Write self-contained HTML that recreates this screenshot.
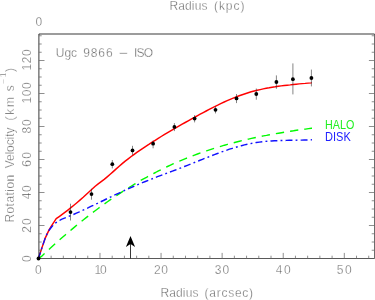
<!DOCTYPE html>
<html><head><meta charset="utf-8"><title>Ugc 9866 - ISO rotation curve</title>
<style>
html,body{margin:0;padding:0;background:#fff;}
body{width:375px;height:300px;overflow:hidden;font-family:"Liberation Sans",sans-serif;}
svg{display:block;}
</style></head><body>
<svg width="375" height="300" viewBox="0 0 375 300">
<rect width="375" height="300" fill="#fff"/>
<g fill="none" stroke-linejoin="round">
<polyline points="38.5,258.4 41.6,248.8 45.1,238.4 49.2,229.6 52.6,224.2 54.6,221.2 56.2,218.7 59.2,216.6 62.2,214.4 65.2,212.1 68.2,209.8 71.2,207.4 74.2,205.0 77.2,202.5 80.2,199.9 83.2,197.3 86.2,194.5 89.2,191.8 92.2,189.0 95.2,186.3 98.2,183.9 101.2,181.7 104.2,179.4 107.2,176.9 110.2,174.3 113.2,171.6 116.2,168.9 119.2,166.2 122.2,163.6 125.2,161.1 128.2,158.8 131.2,156.5 134.2,154.3 137.2,152.2 140.2,150.1 143.2,148.1 146.2,146.1 149.2,144.2 152.2,142.2 155.2,140.3 158.2,138.4 161.2,136.5 164.2,134.7 167.2,132.9 170.2,131.1 173.2,129.3 176.2,127.6 179.2,125.9 182.2,124.2 185.2,122.5 188.2,120.8 191.2,119.1 194.2,117.5 197.2,115.8 200.2,114.2 203.2,112.6 206.2,111.0 209.2,109.4 212.2,107.8 215.2,106.3 218.2,104.9 221.2,103.4 224.2,102.0 227.2,100.7 230.2,99.4 233.2,98.1 236.2,96.9 239.2,95.8 242.2,94.7 245.2,93.7 248.2,92.7 251.2,91.8 254.2,91.0 257.2,90.3 260.2,89.6 263.2,88.9 266.2,88.3 269.2,87.8 272.2,87.2 275.2,86.8 278.2,86.3 281.2,85.9 284.2,85.5 287.2,85.2 290.2,84.9 293.2,84.5 296.2,84.2 299.2,83.9 302.2,83.6 305.2,83.4 308.2,83.1 311.2,82.8 311.8,82.7" stroke="#ff0000" stroke-width="1.45"/>
<polyline points="38.5,258.4 41.5,256.4 44.5,253.6 47.5,250.8 50.5,248.0 53.5,245.3 56.5,242.6 59.5,239.9 62.5,237.3 65.5,234.7 68.5,232.1 71.5,229.6 74.5,227.1 77.5,224.6 80.5,222.2 83.5,219.7 86.5,217.4 89.5,215.0 92.5,212.7 95.5,210.5 98.5,208.2 101.5,206.0 104.5,203.9 107.5,201.7 110.5,199.6 113.5,197.6 116.5,195.6 119.5,193.6 122.5,191.6 125.5,189.7 128.5,187.8 131.5,186.0 134.5,184.2 137.5,182.4 140.5,180.6 143.5,178.9 146.5,177.3 149.5,175.6 152.5,174.0 155.5,172.5 158.5,170.9 161.5,169.4 164.5,167.9 167.5,166.5 170.5,165.1 173.5,163.7 176.5,162.4 179.5,161.1 182.5,159.8 185.5,158.6 188.5,157.4 191.5,156.2 194.5,155.1 197.5,154.0 200.5,152.9 203.5,151.8 206.5,150.8 209.5,149.8 212.5,148.8 215.5,147.9 218.5,147.0 221.5,146.1 224.5,145.2 227.5,144.4 230.5,143.6 233.5,142.8 236.5,142.0 239.5,141.2 242.5,140.5 245.5,139.8 248.5,139.1 251.5,138.4 254.5,137.8 257.5,137.2 260.5,136.5 263.5,135.9 266.5,135.4 269.5,134.8 272.5,134.2 275.5,133.7 278.5,133.2 281.5,132.7 284.5,132.2 287.5,131.7 290.5,131.2 293.5,130.8 296.5,130.3 299.5,129.9 302.5,129.5 305.5,129.1 308.5,128.6 311.5,128.2 312.0,128.2" stroke="#00fa00" stroke-width="1.4" stroke-dasharray="8.34 6.04" stroke-dashoffset="0.57"/>
<polyline points="38.5,258.4 41.6,248.8 45.1,238.4 47.7,232.0 51.6,227.0 55.0,223.3 58.3,221.3 61.4,219.3 64.4,218.2 67.4,217.0 70.4,215.7 73.4,214.5 76.4,213.1 79.4,211.8 82.4,210.4 85.4,209.1 88.4,207.7 91.4,206.2 94.4,204.8 97.4,203.4 100.4,201.9 103.4,200.5 106.4,199.0 109.4,197.6 112.4,196.1 115.4,194.7 118.4,193.3 121.4,191.9 124.4,190.5 127.4,189.2 130.4,187.8 133.4,186.5 136.4,185.2 139.4,183.9 142.4,182.7 145.4,181.5 148.4,180.3 151.4,179.1 154.4,177.9 157.4,176.7 160.4,175.6 163.4,174.5 166.4,173.3 169.4,172.2 172.4,171.1 175.4,170.0 178.4,168.8 181.4,167.7 184.4,166.5 187.4,165.3 190.4,164.2 193.4,163.0 196.4,161.8 199.4,160.5 202.4,159.3 205.4,158.1 208.4,157.0 211.4,155.8 214.4,154.6 217.4,153.5 220.4,152.4 223.4,151.3 226.4,150.3 229.4,149.2 232.4,148.3 235.4,147.4 238.4,146.5 241.4,145.7 244.4,144.9 247.4,144.2 250.4,143.6 253.4,143.0 256.4,142.5 259.4,142.1 262.4,141.7 265.4,141.4 268.4,141.2 271.4,141.0 274.4,140.8 277.4,140.7 280.4,140.5 283.4,140.5 286.4,140.4 289.4,140.3 292.4,140.2 295.4,140.2 298.4,140.1 301.4,140.1 304.4,140.0 307.4,140.0 310.4,139.9 312.0,139.8" stroke="#1010ff" stroke-width="1.4" stroke-dasharray="6.90 3.16 1.87 3.16" stroke-dashoffset="0.57"/>
</g>
<g stroke="#222" stroke-width="0.7" fill="none">
<path d="M38.9 258.5V34.0H374.5" stroke="#000" stroke-width="0.78"/>
<path d="M38.9 258.5H374.5" stroke="#111" stroke-width="0.7"/>
<path d="M374.5 34.0V258.5" stroke="#111" stroke-width="0.62"/>
<path d="M51.12 258.5v-2.8M63.33 258.5v-2.8M75.55 258.5v-2.8M87.76 258.5v-2.8M99.98 258.5v-5.6M112.20 258.5v-2.8M124.41 258.5v-2.8M136.63 258.5v-2.8M148.84 258.5v-2.8M161.06 258.5v-5.6M173.28 258.5v-2.8M185.49 258.5v-2.8M197.71 258.5v-2.8M209.92 258.5v-2.8M222.14 258.5v-5.6M234.36 258.5v-2.8M246.57 258.5v-2.8M258.79 258.5v-2.8M271.00 258.5v-2.8M283.22 258.5v-5.6M295.44 258.5v-2.8M307.65 258.5v-2.8M319.87 258.5v-2.8M332.08 258.5v-2.8M344.30 258.5v-5.6M356.52 258.5v-2.8M368.73 258.5v-2.8M38.9 250.25h2.8M374.5 250.25h-2.8M38.9 242.00h2.8M374.5 242.00h-2.8M38.9 233.75h2.8M374.5 233.75h-2.8M38.9 225.50h5.6M374.5 225.50h-5.6M38.9 217.25h2.8M374.5 217.25h-2.8M38.9 209.00h2.8M374.5 209.00h-2.8M38.9 200.75h2.8M374.5 200.75h-2.8M38.9 192.50h5.6M374.5 192.50h-5.6M38.9 184.25h2.8M374.5 184.25h-2.8M38.9 176.00h2.8M374.5 176.00h-2.8M38.9 167.75h2.8M374.5 167.75h-2.8M38.9 159.50h5.6M374.5 159.50h-5.6M38.9 151.25h2.8M374.5 151.25h-2.8M38.9 143.00h2.8M374.5 143.00h-2.8M38.9 134.75h2.8M374.5 134.75h-2.8M38.9 126.50h5.6M374.5 126.50h-5.6M38.9 118.25h2.8M374.5 118.25h-2.8M38.9 110.00h2.8M374.5 110.00h-2.8M38.9 101.75h2.8M374.5 101.75h-2.8M38.9 93.50h5.6M374.5 93.50h-5.6M38.9 85.25h2.8M374.5 85.25h-2.8M38.9 77.00h2.8M374.5 77.00h-2.8M38.9 68.75h2.8M374.5 68.75h-2.8M38.9 60.50h5.6M374.5 60.50h-5.6M38.9 52.25h2.8M374.5 52.25h-2.8M38.9 44.00h2.8M374.5 44.00h-2.8M38.9 35.75h2.8M374.5 35.75h-2.8" stroke="#6a6a6a" stroke-width="0.75"/>
</g>
<circle cx="38.5" cy="258.5" r="1.9" fill="#000"/>
<line x1="70.5" x2="70.5" y1="203.7" y2="220.5" stroke="#333" stroke-width="0.6"/>
<circle cx="70.5" cy="212.1" r="1.9" fill="#000"/>
<line x1="91.5" x2="91.5" y1="188.8" y2="199.7" stroke="#333" stroke-width="0.6"/>
<circle cx="91.5" cy="194.1" r="1.9" fill="#000"/>
<line x1="112.3" x2="112.3" y1="160.0" y2="168.4" stroke="#333" stroke-width="0.6"/>
<circle cx="112.3" cy="164.2" r="1.9" fill="#000"/>
<line x1="132.5" x2="132.5" y1="145.8" y2="154.9" stroke="#333" stroke-width="0.6"/>
<circle cx="132.5" cy="150.4" r="1.9" fill="#000"/>
<line x1="153.1" x2="153.1" y1="140.5" y2="148.3" stroke="#333" stroke-width="0.6"/>
<circle cx="153.1" cy="143.7" r="1.9" fill="#000"/>
<line x1="174.4" x2="174.4" y1="123.1" y2="131.1" stroke="#333" stroke-width="0.6"/>
<circle cx="174.4" cy="126.9" r="1.9" fill="#000"/>
<line x1="194.6" x2="194.6" y1="115.1" y2="122.4" stroke="#333" stroke-width="0.6"/>
<circle cx="194.6" cy="118.6" r="1.9" fill="#000"/>
<line x1="215.5" x2="215.5" y1="106.4" y2="113.4" stroke="#333" stroke-width="0.6"/>
<circle cx="215.5" cy="109.8" r="1.9" fill="#000"/>
<line x1="236.5" x2="236.5" y1="94.0" y2="103.1" stroke="#333" stroke-width="0.6"/>
<circle cx="236.5" cy="98.4" r="1.9" fill="#000"/>
<line x1="256.3" x2="256.3" y1="88.5" y2="99.7" stroke="#333" stroke-width="0.6"/>
<circle cx="256.3" cy="94.0" r="1.9" fill="#000"/>
<line x1="276.4" x2="276.4" y1="75.4" y2="88.8" stroke="#333" stroke-width="0.6"/>
<circle cx="276.4" cy="82.0" r="1.9" fill="#000"/>
<line x1="292.9" x2="292.9" y1="63.4" y2="94.4" stroke="#333" stroke-width="0.6"/>
<circle cx="292.9" cy="79.2" r="1.9" fill="#000"/>
<line x1="311.4" x2="311.4" y1="69.6" y2="86.4" stroke="#333" stroke-width="0.6"/>
<circle cx="311.4" cy="78.0" r="1.9" fill="#000"/>
<line x1="130.5" x2="130.5" y1="258.5" y2="244" stroke="#222" stroke-width="0.9"/>
<path d="M130.5 236L135.1 246.9L130.5 244L125.9 246.9Z" fill="#000"/>
<g style="filter:blur(0px)" font-family="'Liberation Sans', sans-serif" font-size="12" fill="#4c4c4c" stroke="#fff" stroke-width="0.4">
<text x="169.42" y="9.9" textLength="38.02" lengthAdjust="spacing">Radius</text>
<text x="213.91" y="9.9" textLength="30.60" lengthAdjust="spacing">(kpc)</text>
<text x="160.42" y="297.1" textLength="38.06" lengthAdjust="spacing">Radius</text>
<text x="204.61" y="297.1" textLength="48.48" lengthAdjust="spacing">(arcsec)</text>
<text x="55.78" y="56.9" textLength="21.30" lengthAdjust="spacing">Ugc</text>
<text x="83.27" y="56.9" textLength="29.33" lengthAdjust="spacing">9866</text>
<text x="118.60" y="56.9" textLength="9.20" lengthAdjust="spacingAndGlyphs">−</text>
<text x="134.07" y="56.9" textLength="19.09" lengthAdjust="spacing">ISO</text>
<text x="35.47" y="25.7">0</text>
<text x="35.11" y="273.5">0</text>
<text x="94.58" y="273.5" textLength="12.21" lengthAdjust="spacing">10</text>
<text x="154.07" y="273.5" textLength="13.92" lengthAdjust="spacing">20</text>
<text x="214.81" y="273.5" textLength="14.39" lengthAdjust="spacing">30</text>
<text x="275.70" y="273.5" textLength="15.02" lengthAdjust="spacing">40</text>
<text x="336.66" y="273.5" textLength="14.93" lengthAdjust="spacing">50</text>
<text transform="translate(31.0 262.05) rotate(-90)">0</text>
<text transform="translate(31.0 232.63) rotate(-90)" textLength="14.40" lengthAdjust="spacing">20</text>
<text transform="translate(31.0 199.30) rotate(-90)" textLength="13.88" lengthAdjust="spacing">40</text>
<text transform="translate(31.0 166.65) rotate(-90)" textLength="14.49" lengthAdjust="spacing">60</text>
<text transform="translate(31.0 133.57) rotate(-90)" textLength="14.20" lengthAdjust="spacing">80</text>
<text transform="translate(31.0 103.62) rotate(-90)" textLength="21.37" lengthAdjust="spacing">100</text>
<text transform="translate(31.0 70.52) rotate(-90)" textLength="21.12" lengthAdjust="spacing">120</text>
<text transform="translate(13.5 222.58) rotate(-90)" textLength="47.78" lengthAdjust="spacing">Rotation</text>
<text transform="translate(13.5 168.25) rotate(-90)" textLength="40.65" lengthAdjust="spacing">Velocity</text>
<text transform="translate(13.5 120.39) rotate(-90)" textLength="23.32" lengthAdjust="spacing">(km</text>
<text transform="translate(13.5 91.37) rotate(-90)">s</text>
<text transform="translate(13.5 72.02) rotate(-90)">)</text>
<text transform="translate(6.4 83.74) rotate(-90)" textLength="11.20" lengthAdjust="spacing" font-size="8.5">−1</text>
</g>
<g style="filter:blur(0px)" font-family="'Liberation Sans', sans-serif" font-size="12.2">
<text fill="#20f020" x="325.02" y="128.8" textLength="29.29" lengthAdjust="spacingAndGlyphs">HALO</text>
<text fill="#2020ff" x="325.00" y="140.8" textLength="25.75" lengthAdjust="spacingAndGlyphs">DISK</text>
</g>
</svg>
</body></html>
